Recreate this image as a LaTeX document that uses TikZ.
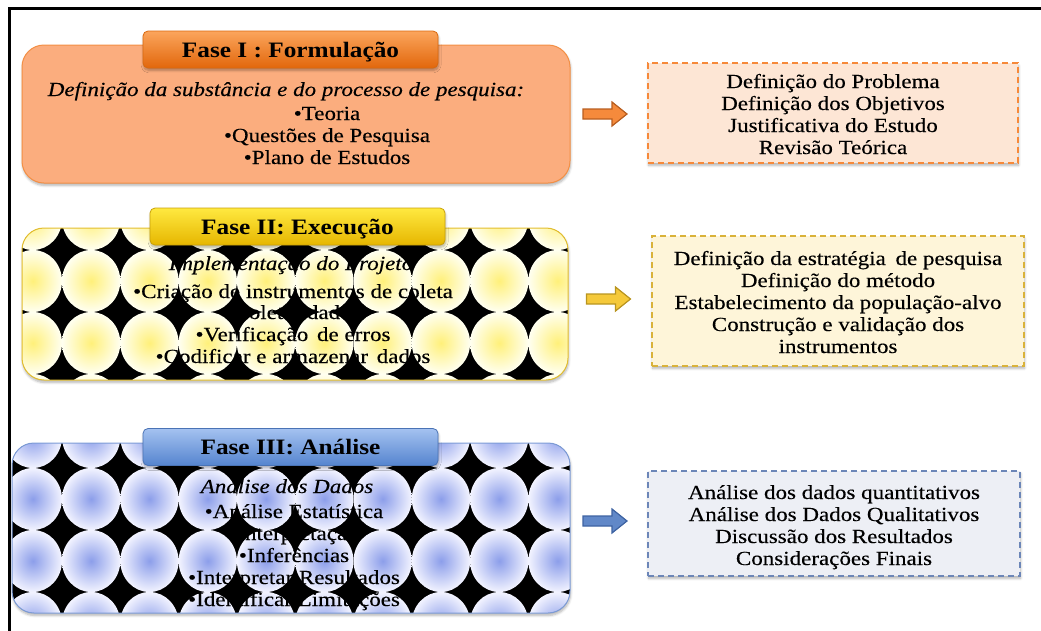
\documentclass[tikz,border=0pt]{standalone}
\usepackage{fontspec}
\setmainfont{Liberation Serif}[FakeStretch=1.15,
  UprightFeatures={FakeBold=0.3}, ItalicFeatures={FakeBold=0.3}]
\usetikzlibrary{shadows.blur}

% phase I (orange)
\definecolor{orFill}{HTML}{FBAD7E}
\definecolor{orLine}{HTML}{F38F45}
\definecolor{orTop}{HTML}{FBA55C}
\definecolor{orBot}{HTML}{E2670C}
\definecolor{orEdge}{HTML}{D9690F}
\definecolor{orPale}{HTML}{FDE6D5}
\definecolor{orDash}{HTML}{F6893A}
\definecolor{orArrow}{HTML}{F58A3C}
\definecolor{orArrowEdge}{HTML}{B85E20}
% phase II (yellow)
\definecolor{yeLine}{HTML}{E3BE2E}
\definecolor{yeTop}{HTML}{FFE940}
\definecolor{yeBot}{HTML}{E6B600}
\definecolor{yeEdge}{HTML}{C9A10A}
\definecolor{yeIn}{HTML}{FFF07A}
\definecolor{yeOut}{HTML}{FFFFF0}
\definecolor{yePale}{HTML}{FEF5D9}
\definecolor{yeDash}{HTML}{D9B23A}
\definecolor{yeArrow}{HTML}{F5C93A}
\definecolor{yeArrowEdge}{HTML}{B99520}
% phase III (blue)
\definecolor{blLine}{HTML}{7C9BD6}
\definecolor{blTop}{HTML}{A4C2F0}
\definecolor{blBot}{HTML}{5584CF}
\definecolor{blEdge}{HTML}{4A73B5}
\definecolor{blIn}{HTML}{8C9EEA}
\definecolor{blOut}{HTML}{F2F3FF}
\definecolor{blPale}{HTML}{EDEFF5}
\definecolor{blDash}{HTML}{6C86B8}
\definecolor{blArrow}{HTML}{6188C8}
\definecolor{blArrowEdge}{HTML}{3E63A2}

\begin{document}
\begin{tikzpicture}[x=1pt, y=-1pt,
  softshadow/.style={blur shadow={shadow xshift=0.6pt, shadow yshift=-2.4pt,
      shadow blur radius=2.4pt, shadow blur steps=6, shadow opacity=30}},
  phasebox/.style={softshadow, rounded corners=22pt, inner sep=0pt, outer sep=0pt, line width=1pt},
  phasetitle/.style={softshadow, draw, rounded corners=5pt, minimum width=295pt,
      minimum height=37pt, inner sep=0pt, line width=0.8pt, text height=15pt, text depth=0pt,
      font=\fontsize{22}{24}\selectfont\bfseries},
  notebox/.style={softshadow, dash pattern=on 6pt off 4pt, line width=1.5pt, inner sep=0pt},
  txt/.style={anchor=base, inner sep=0pt, font=\fontsize{20}{22}\selectfont},
  itxt/.style={anchor=base, inner sep=0pt, font=\fontsize{20}{22}\selectfont\itshape},
  blockarrow/.pic={\draw[pic actions] (-22,-5) -- (7,-5) -- (7,-12) -- (22,0) -- (7,12) -- (7,5) -- (-22,5) -- cycle;}
]
\useasboundingbox (0,0) rectangle (1041,630);

% outer frame
\draw[line width=2.5pt] (9.5,645) -- (9.5,8.5) -- (1050,8.5);

% ---------- Fase I ----------
\node[phasebox, draw=orLine, fill=orFill, minimum width=548pt, minimum height=138pt] (P1) at (296,114) {};
\node[phasetitle, draw=orEdge, top color=orTop, bottom color=orBot] (L1) at (290.5,49.5) {Fase I : Formulação};
\node[itxt] (P1i) at (286,96) {Definição da substância e do processo de pesquisa:};
\foreach \t [count=\i from 0] in {•Teoria, •Questões de Pesquisa, •Plano de Estudos}
  \node[txt] (P1b\i) at (327,{120+22*\i}) {\t};

% ---------- Fase II : box filled with a grid of shaded discs on black ----------
\node[phasebox, fill=white, minimum width=546pt, minimum height=152pt] (P2) at (295,304) {};
\begin{scope}
  \clip[rounded corners=22pt] (P2.north west) rectangle (P2.south east);
  \fill[black] (P2.north west) rectangle (P2.south east);
  \foreach \cx in {0,...,9}{\foreach \cy in {219,281,343,405}{
    \shade[inner color=yeIn, outer color=yeOut] ({32.85+58.3*\cx},\cy) ellipse [x radius=29.15, y radius=31];}}
\end{scope}
\draw[yeLine, line width=1pt, rounded corners=22pt] (P2.north west) rectangle (P2.south east);
\node[phasetitle, draw=yeEdge, top color=yeTop, bottom color=yeBot] (L2) at (297.5,226.5) {Fase II: Execução};
\node[itxt] (P2i) at (291,270) {Implementação do Projeto};
\node[txt] (P2b0) at (293,298) {•Criação de instrumentos de coleta};
\node[txt] (P2b1) at (293,319) {•Coletar dados};
\node[txt] (P2b2) at (293,341) {•Verificação\hspace{3pt} de erros};
\node[txt] (P2b3) at (293,363) {•Codificar e armazenar\hspace{3pt} dados};

% ---------- Fase III : same disc grid, blue ----------
\node[phasebox, fill=white, minimum width=558pt, minimum height=170pt] (P3) at (291,528) {};
\begin{scope}
  \clip[rounded corners=22pt] (P3.north west) rectangle (P3.south east);
  \fill[black] (P3.north west) rectangle (P3.south east);
  \foreach \cx in {0,...,9}{\foreach \cy in {437,499,561,623}{
    \shade[inner color=blIn, outer color=blOut] ({32.85+58.3*\cx},\cy) ellipse [x radius=29.15, y radius=31];}}
\end{scope}
\draw[blLine, line width=1pt, rounded corners=22pt] (P3.north west) rectangle (P3.south east);
\node[phasetitle, draw=blEdge, top color=blTop, bottom color=blBot] (L3) at (290.5,447) {Fase III: Análise};
\node[itxt] (P3i) at (287,493) {Análise dos Dados};
\foreach \t [count=\i from 0] in {•Análise Estatística, •Interpretação, •Inferências,
    •Interpretar Resultados, •Identificar Limitações}
  \node[txt] (P3b\i) at (294,{518+22*\i}) {\t};

% ---------- result boxes ----------
\node[notebox, draw=orDash, fill=orPale, minimum width=370pt, minimum height=100pt] (R1) at (833,113) {};
\foreach \t [count=\i from 0] in {Definição do Problema, Definição dos Objetivos,
    Justificativa do Estudo, Revisão Teórica}
  \node[txt] (R1l\i) at (833,{88+22*\i}) {\t};

\node[notebox, draw=yeDash, fill=yePale, minimum width=372pt, minimum height=130pt] (R2) at (838,301) {};
\foreach \t [count=\i from 0] in {Definição da estratégia\hspace{4pt} de pesquisa, Definição do método,
    Estabelecimento da população-alvo, Construção e validação dos, instrumentos}
  \node[txt] (R2l\i) at (838,{265+22*\i}) {\t};

\node[notebox, draw=blDash, fill=blPale, minimum width=372pt, minimum height=105pt] (R3) at (834,523.5) {};
\foreach \t [count=\i from 0] in {Análise dos dados quantitativos, Análise dos Dados Qualitativos,
    Discussão dos Resultados, Considerações Finais}
  \node[txt] (R3l\i) at (834,{499+22*\i}) {\t};

% ---------- block arrows ----------
\pic[fill=orArrow, draw=orArrowEdge, line width=1.2pt] (A1) at (605,114) {blockarrow};
\pic[fill=yeArrow, draw=yeArrowEdge, line width=1.2pt] (A2) at (608.5,299) {blockarrow};
\pic[fill=blArrow, draw=blArrowEdge, line width=1.2pt] (A3) at (605,521) {blockarrow};
\end{tikzpicture}
\end{document}
